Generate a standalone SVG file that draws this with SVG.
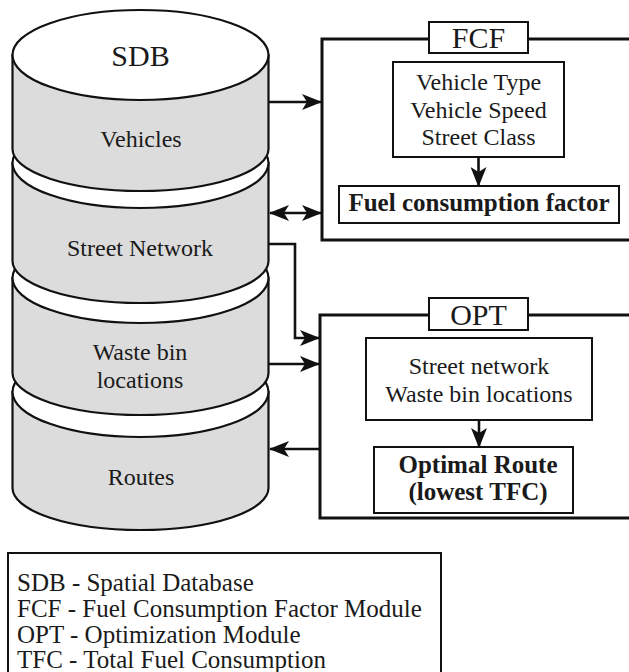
<svg xmlns="http://www.w3.org/2000/svg" width="629" height="672" viewBox="0 0 629 672">
<style>
.t{font-family:"Liberation Serif","Times New Roman",serif;font-size:24px;fill:#1a1a1a;text-anchor:middle}
.b{font-weight:bold;font-size:25px}
.big{font-size:30px}
.lg{font-size:25px;text-anchor:start}
.body{fill:#dcdcdc;stroke:#111;stroke-width:2.2}
.top{fill:#fff;stroke:#111;stroke-width:2.2}
.frame{fill:none;stroke:#111;stroke-width:3}
.box{fill:#fff;stroke:#111;stroke-width:2}
.c{fill:none;stroke:#111;stroke-width:2.6}
</style>
<defs>
<marker id="ah" markerUnits="userSpaceOnUse" markerWidth="20" markerHeight="16" viewBox="0 0 20 16" refX="19" refY="8" orient="auto-start-reverse">
<path d="M0,0 L20,8 L0,16 L5,8 z" fill="#111"/>
</marker>
</defs>
<rect width="629" height="672" fill="#fff"/>
<g id="sdb">
<g id="seg-routes">
<path class="body" d="M12.5,392 L12.5,488 A128,42 0 0 0 268.5,488 L268.5,392 z"/>
<ellipse class="top" cx="140.5" cy="392" rx="128" ry="45"/>
</g>
<g id="seg-bins">
<path class="body" d="M12.5,278 L12.5,373 A128,42 0 0 0 268.5,373 L268.5,278 z"/>
<ellipse class="top" cx="140.5" cy="278" rx="128" ry="45"/>
</g>
<g id="seg-street">
<path class="body" d="M12.5,163 L12.5,261 A128,42 0 0 0 268.5,261 L268.5,163 z"/>
<ellipse class="top" cx="140.5" cy="163" rx="128" ry="45"/>
</g>
<g id="seg-vehicles">
<path class="body" d="M12.5,55 L12.5,149 A128,42 0 0 0 268.5,149 L268.5,55 z"/>
<ellipse class="top" cx="140.5" cy="55" rx="128" ry="45"/>
</g>
<text class="t big" x="140.5" y="66">SDB</text>
<text class="t" x="141" y="147">Vehicles</text>
<text class="t" x="140" y="256">Street Network</text>
<text class="t" x="140" y="360">Waste bin</text>
<text class="t" x="140" y="388">locations</text>
<text class="t" x="141" y="485">Routes</text>
</g>
<g id="fcf">
<path class="frame" d="M640,39 L322,39 L322,240 L640,240"/>
<rect class="box" x="429" y="22" width="99" height="31"/>
<text class="t big" x="478.5" y="48">FCF</text>
<rect class="box" x="393" y="62" width="171" height="95"/>
<text class="t" x="478.5" y="90">Vehicle Type</text>
<text class="t" x="478.5" y="118">Vehicle Speed</text>
<text class="t" x="478.5" y="145">Street Class</text>
<rect class="box" x="339" y="186" width="280" height="37"/>
<text class="t b" x="479" y="211">Fuel consumption factor</text>
</g>
<g id="opt">
<path class="frame" d="M640,315 L320,315 L320,518 L640,518"/>
<rect class="box" x="429" y="298" width="99" height="32"/>
<text class="t big" x="478.5" y="325">OPT</text>
<rect class="box" x="366" y="338" width="226" height="82"/>
<text class="t" x="479" y="374">Street network</text>
<text class="t" x="479" y="402">Waste bin locations</text>
<rect class="box" x="374" y="447" width="199" height="66"/>
<text class="t b" x="478" y="473">Optimal Route</text>
<text class="t b" x="478" y="500">(lowest TFC)</text>
</g>
<g id="legend">
<rect class="box" x="8" y="553" width="433" height="130"/>
<text class="t lg" x="17" y="591">SDB - Spatial Database</text>
<text class="t lg" x="17" y="617">FCF - Fuel Consumption Factor Module</text>
<text class="t lg" x="17" y="643">OPT - Optimization Module</text>
<text class="t lg" x="17" y="668">TFC - Total Fuel Consumption</text>
</g>
<g id="connectors">
<path class="c" d="M269,102 L321,102" marker-end="url(#ah)"/>
<path class="c" d="M270,213 L321,213" marker-start="url(#ah)" marker-end="url(#ah)"/>
<path class="c" d="M269,244 L295,244 L295,338 L319,338" marker-end="url(#ah)"/>
<path class="c" d="M269,364 L319,364" marker-end="url(#ah)"/>
<path class="c" d="M319,449 L270,449" marker-end="url(#ah)"/>
<path class="c" d="M478.5,157 L478.5,186" marker-end="url(#ah)"/>
<path class="c" d="M479,420 L479,447" marker-end="url(#ah)"/>
</g>
</svg>
